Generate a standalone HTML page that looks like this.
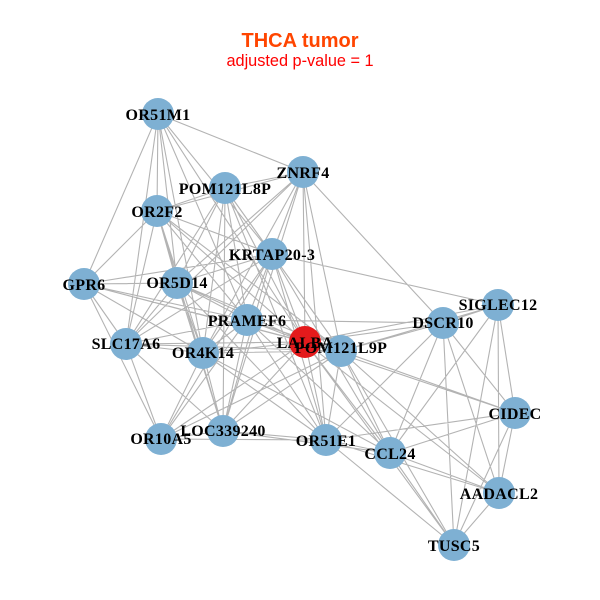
<!DOCTYPE html>
<html><head><meta charset="utf-8"><style>
html,body{margin:0;padding:0;background:#fff;width:600px;height:600px;overflow:hidden}
svg{display:block}
.l{font-family:"Liberation Serif",serif;font-weight:bold;font-size:16px;letter-spacing:.3px;fill:#000;text-anchor:middle}
</style></head><body>
<svg width="600" height="600" viewBox="0 0 600 600" xmlns="http://www.w3.org/2000/svg">
<rect width="600" height="600" fill="#fff"/>
<path fill="none" stroke="#b3b3b3" stroke-width="1.1" d="
M158 114L303 172M158 114L84 284M158 114L126 344M158 114L157 211M158 114L177 283M158 114L203 353M158 114L247 320M158 114L272 254M158 114L305 342
M303 172L225 188M303 172L157 211M303 172L272 254M303 172L177 283M303 172L247 320M303 172L305 342M303 172L341 351M303 172L443 323M303 172L126 344M303 172L203 353M303 172L223 431M303 172L326 440
M225 188L157 211M225 188L272 254M225 188L177 283M225 188L126 344M225 188L247 320M225 188L203 353M225 188L305 342M225 188L341 351M225 188L326 440M225 188L223 431
M157 211L84 284M157 211L177 283M157 211L203 353M157 211L272 254M157 211L126 344M157 211L247 320M157 211L305 342M157 211L341 351M157 211L223 431
M272 254L84 284M272 254L177 283M272 254L498 305M272 254L247 320M272 254L305 342M272 254L341 351M272 254L126 344M272 254L203 353M272 254L161 439M272 254L223 431M272 254L326 440M272 254L390 453
M177 283L84 284M177 283L126 344M177 283L203 353M177 283L223 431M177 283L247 320M177 283L305 342M177 283L341 351M177 283L326 440
M84 284L126 344M84 284L203 353M84 284L161 439M84 284L247 320M84 284L305 342M84 284L341 351
M247 320L203 353M247 320L305 342M247 320L341 351M247 320L161 439M247 320L223 431M247 320L326 440M247 320L390 453M247 320L126 344M247 320L443 323
M126 344L203 353M126 344L305 342M126 344L341 351M126 344L161 439M126 344L223 431
M203 353L223 431M203 353L161 439M203 353L305 342M203 353L341 351M203 353L326 440M203 353L390 453
M305 342L341 351M305 342L443 323M305 342L161 439M305 342L223 431M305 342L326 440M305 342L390 453M305 342L454 545M305 342L515 413M305 342L499 493M305 342L498 305
M341 351L443 323M341 351L498 305M341 351L515 413M341 351L161 439M341 351L223 431M341 351L326 440M341 351L390 453M341 351L499 493M341 351L454 545
M443 323L498 305M443 323L515 413M443 323L499 493M443 323L454 545M443 323L390 453M443 323L326 440
M498 305L515 413M498 305L499 493M498 305L454 545M498 305L390 453
M515 413L326 440M515 413L390 453M515 413L499 493M515 413L454 545
M499 493L454 545M499 493L390 453M499 493L326 440
M390 453L454 545M390 453L326 440M390 453L223 431
M326 440L454 545M326 440L223 431M326 440L161 439
M223 431L161 439"/>
<g fill="#7eb0d3">
<circle cx="158" cy="114" r="16"/><circle cx="303" cy="172" r="16"/><circle cx="225" cy="188" r="16"/><circle cx="157" cy="211" r="16"/><circle cx="272" cy="254" r="16"/><circle cx="177" cy="283" r="16"/><circle cx="84" cy="284" r="16"/><circle cx="247" cy="320" r="16"/><circle cx="126" cy="344" r="16"/><circle cx="203" cy="353" r="16"/><circle cx="341" cy="351" r="16"/><circle cx="443" cy="323" r="16"/><circle cx="498" cy="305" r="16"/><circle cx="515" cy="413" r="16"/><circle cx="499" cy="493" r="16"/><circle cx="454" cy="545" r="16"/><circle cx="390" cy="453" r="16"/><circle cx="326" cy="440" r="16"/><circle cx="223" cy="431" r="16"/><circle cx="161" cy="439" r="16"/>
</g>
<circle cx="305" cy="342" r="16" fill="#e41a1c"/>
<g class="l">
<text class="l" x="158" y="120">OR51M1</text>
<text class="l" x="303" y="178">ZNRF4</text>
<text class="l" x="225" y="194">POM121L8P</text>
<text class="l" x="157" y="217">OR2F2</text>
<text class="l" x="272" y="260">KRTAP20-3</text>
<text class="l" x="177" y="288">OR5D14</text>
<text class="l" x="84" y="290">GPR6</text>
<text class="l" x="247" y="326">PRAMEF6</text>
<text class="l" x="126" y="349">SLC17A6</text>
<text class="l" x="203" y="358">OR4K14</text>
<text class="l" x="305" y="348">LALBA</text>
<text class="l" x="341" y="353">POM121L9P</text>
<text class="l" x="443" y="328">DSCR10</text>
<text class="l" x="498" y="310">SIGLEC12</text>
<text class="l" x="515" y="419">CIDEC</text>
<text class="l" x="499" y="499">AADACL2</text>
<text class="l" x="454" y="551">TUSC5</text>
<text class="l" x="390" y="459">CCL24</text>
<text class="l" x="326" y="446">OR51E1</text>
<text class="l" x="223" y="436">LOC339240</text>
<text class="l" x="161" y="444">OR10A5</text>
</g>
<text x="300" y="47" text-anchor="middle" font-family="Liberation Sans, sans-serif" font-weight="bold" font-size="20" fill="#ff4500">THCA tumor</text>
<text x="300" y="66" text-anchor="middle" font-family="Liberation Sans, sans-serif" font-size="16.3" fill="#ff0000">adjusted p-value = 1</text>
</svg>
</body></html>
